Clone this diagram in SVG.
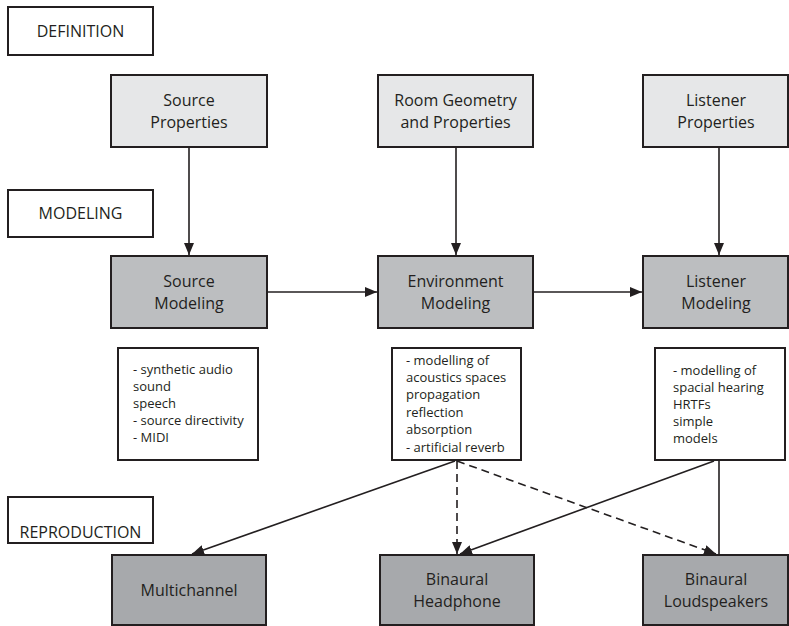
<svg xmlns="http://www.w3.org/2000/svg" width="789" height="626" viewBox="0 0 789 626">
  <style>
    text { font-family: "Open Sans", "Liberation Sans", sans-serif; fill: #231f20; }
    .stage rect { fill: #ffffff; stroke: #231f20; stroke-width: 2; }
    .stage text { font-size: 16px; text-anchor: middle; }
    .node rect { stroke: #231f20; stroke-width: 2; }
    .node text { font-size: 16px; text-anchor: middle; }
    .def rect { fill: #e6e7e8; }
    .mod rect { fill: #bcbec0; }
    .rep rect { fill: #a7a9ac; }
    .note rect { fill: #ffffff; stroke: #231f20; stroke-width: 2; }
    .note text { font-size: 13px; }
    .wire { fill: none; stroke: #231f20; stroke-width: 1.6; }
    .dash { stroke-dasharray: 8 5; }
  </style>
  <defs>
    <marker id="head" viewBox="0 0 12 10" refX="12" refY="5" markerWidth="12" markerHeight="10" markerUnits="userSpaceOnUse" orient="auto">
      <path d="M0,0 L12,5 L0,10 Z" fill="#231f20"/>
    </marker>
  </defs>

  <!-- stage labels -->
  <g id="stage-definition" class="stage">
    <rect x="8" y="7" width="145" height="48"/>
    <text x="80.5" y="37">DEFINITION</text>
  </g>
  <g id="stage-modeling" class="stage">
    <rect x="8" y="190" width="145" height="47"/>
    <text x="80.5" y="219">MODELING</text>
  </g>
  <g id="stage-reproduction" class="stage">
    <rect x="8" y="497" width="145" height="46"/>
    <text x="80.5" y="538">REPRODUCTION</text>
  </g>

  <!-- definition row -->
  <g id="source-properties" class="node def">
    <rect x="111" y="75" width="156" height="72"/>
    <text x="189" y="106">Source</text>
    <text x="189" y="128">Properties</text>
  </g>
  <g id="room-properties" class="node def">
    <rect x="378" y="75" width="155" height="72"/>
    <text x="455.5" y="106">Room Geometry</text>
    <text x="455.5" y="128">and Properties</text>
  </g>
  <g id="listener-properties" class="node def">
    <rect x="643" y="75" width="145" height="72"/>
    <text x="716" y="106">Listener</text>
    <text x="716" y="128">Properties</text>
  </g>

  <!-- modeling row -->
  <g id="source-modeling" class="node mod">
    <rect x="111" y="256" width="156" height="72"/>
    <text x="189" y="287">Source</text>
    <text x="189" y="309">Modeling</text>
  </g>
  <g id="environment-modeling" class="node mod">
    <rect x="378" y="256" width="155" height="72"/>
    <text x="455.5" y="287">Environment</text>
    <text x="455.5" y="309">Modeling</text>
  </g>
  <g id="listener-modeling" class="node mod">
    <rect x="643" y="256" width="145" height="72"/>
    <text x="716" y="287">Listener</text>
    <text x="716" y="309">Modeling</text>
  </g>

  <!-- notes -->
  <g id="source-notes" class="note">
    <rect x="118" y="348" width="140" height="112"/>
    <text x="133" y="374">- synthetic audio</text>
    <text x="133" y="391">sound</text>
    <text x="133" y="408">speech</text>
    <text x="133" y="425">- source directivity</text>
    <text x="133" y="442">- MIDI</text>
  </g>
  <g id="environment-notes" class="note">
    <rect x="392" y="348" width="129" height="112"/>
    <text x="406" y="365">- modelling of</text>
    <text x="406" y="382">acoustics spaces</text>
    <text x="406" y="399">propagation</text>
    <text x="406" y="417">reflection</text>
    <text x="406" y="434">absorption</text>
    <text x="406" y="452">- artificial reverb</text>
  </g>
  <g id="listener-notes" class="note">
    <rect x="655" y="348" width="130" height="112"/>
    <text x="673" y="375">- modelling of</text>
    <text x="673" y="392">spacial hearing</text>
    <text x="673" y="409">HRTFs</text>
    <text x="673" y="426">simple</text>
    <text x="673" y="443">models</text>
  </g>

  <!-- reproduction row -->
  <g id="multichannel" class="node rep">
    <rect x="112" y="555" width="154" height="70"/>
    <text x="189" y="596">Multichannel</text>
  </g>
  <g id="binaural-headphone" class="node rep">
    <rect x="380" y="555" width="154" height="70"/>
    <text x="457" y="585">Binaural</text>
    <text x="457" y="607">Headphone</text>
  </g>
  <g id="binaural-loudspeakers" class="node rep">
    <rect x="643" y="555" width="145" height="70"/>
    <text x="716" y="585">Binaural</text>
    <text x="716" y="607">Loudspeakers</text>
  </g>

  <!-- connectors -->
  <g id="connectors">
    <line class="wire" x1="189" y1="148" x2="189" y2="255" marker-end="url(#head)"/>
    <line class="wire" x1="456" y1="148" x2="456" y2="255" marker-end="url(#head)"/>
    <line class="wire" x1="719" y1="148" x2="719" y2="255" marker-end="url(#head)"/>
    <line class="wire" x1="268" y1="292" x2="377" y2="292" marker-end="url(#head)"/>
    <line class="wire" x1="534" y1="292" x2="642" y2="292" marker-end="url(#head)"/>
    <line class="wire" x1="455" y1="461" x2="192" y2="554" marker-end="url(#head)"/>
    <line class="wire dash" x1="457" y1="461" x2="457" y2="554" marker-end="url(#head)"/>
    <line class="wire dash" x1="457" y1="461" x2="716" y2="554" marker-end="url(#head)"/>
    <line class="wire" x1="714" y1="461" x2="460" y2="554" marker-end="url(#head)"/>
    <line class="wire" x1="719" y1="461" x2="719" y2="555"/>
  </g>
</svg>
